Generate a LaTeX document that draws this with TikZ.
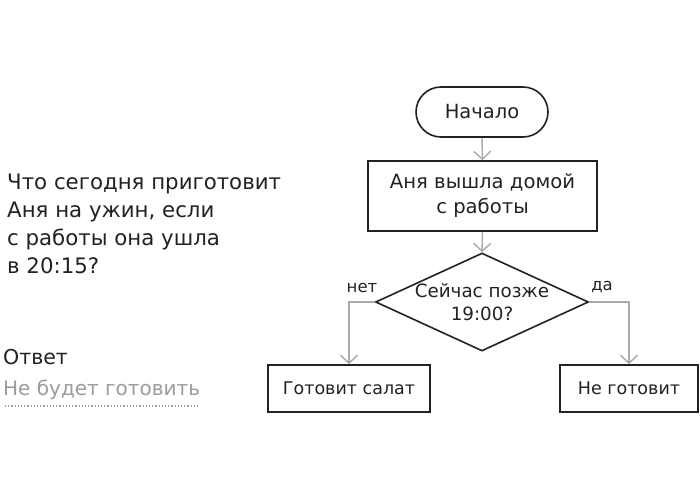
\documentclass[tikz,border=0pt]{standalone}
\usepackage{fontspec}
\setmainfont{DejaVu Sans}
\usetikzlibrary{shapes.geometric,shapes.misc,arrows.meta}
\definecolor{ink}{HTML}{222222}
\definecolor{arrowgray}{HTML}{AAAAAA}
\definecolor{handgray}{HTML}{9C9C9C}
\tikzset{
  x=1pt,y=-1pt,
  every node/.style={font=\fontsize{19.6}{25}\selectfont, text=ink},
  boxnode/.style={draw=ink, line width=1.6pt, rectangle, inner sep=0pt, align=center},
  startnode/.style={draw=ink, line width=1.6pt, rounded rectangle, inner sep=0pt},
  decnode/.style={draw=ink, line width=1.6pt, diamond, inner sep=0pt},
  flow/.style={draw=arrowgray, line width=1.4pt, -{Straight Barb[length=8pt,width=17pt,line width=1.4pt]}},
  plain/.style={inner sep=0pt, anchor=west, align=left},
  lbl/.style={inner sep=0pt, font=\fontsize{16.5}{20}\selectfont},
  endbox/.style={boxnode, font=\fontsize{17.5}{22}\selectfont},
}
\begin{document}
\begin{tikzpicture}
\useasboundingbox[fill=white] (0,0) rectangle (700,500);
\node[startnode, minimum width=132pt, minimum height=50pt, font=\fontsize{19.5}{24}\selectfont] (start) at (482,112) {Начало};
\node[boxnode, minimum width=229pt, minimum height=70pt] (act) at (482.5,196) {Аня вышла домой\\с работы};
\node[decnode, minimum width=213pt, minimum height=98pt] (dec) at (482,302) {};
\node[inner sep=0pt, align=center, font=\fontsize{18.3}{23}\selectfont] (dectext) at (dec.center) {Сейчас позже\\19:00?};
\node[endbox, minimum width=162pt, minimum height=47pt] (no) at (349,388.5) {Готовит салат};
\node[endbox, minimum width=138pt, minimum height=47pt] (yes) at (629,388.5) {Не готовит};
\draw[flow] (start.south) -- (act.north);
\draw[flow] (act.south) -- (dec.north);
\draw[flow] (dec.west) -| (no.north);
\draw[flow] (dec.east) -| (yes.north);
\node[lbl] (lno) at (362,287.5) {нет};
\node[lbl] (lyes) at (602,287.5) {да};
\node[plain, anchor=north west, font=\fontsize{21.3}{28}\selectfont] (q) at (7,173.5) {Что сегодня приготовит\\Аня на ужин, если\\с работы она ушла\\в 20:15?};
\node[plain, font=\fontsize{20.5}{24}\selectfont] (ans) at (3,357) {Ответ};
\node[plain, text=handgray, font=\fontsize{20}{22}\selectfont] (hand) at (3,390) {Не будет готовить};
\coordinate (d1) at (5,406);
\coordinate (d2) at (198,406);
\draw[handgray, line width=1.2pt, dotted] (d1) -- (d2);
\end{tikzpicture}
\end{document}
